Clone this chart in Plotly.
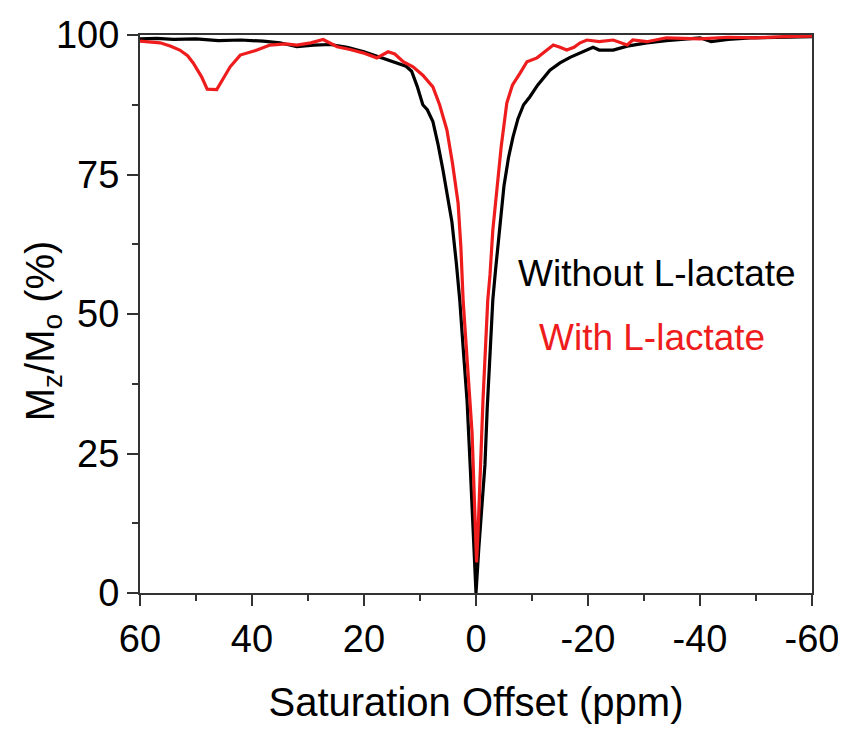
import plotly.graph_objects as go

# Saturation offset (ppm) and Mz/Mo (%)
x_without = [60, 57, 54, 50, 46, 42, 38, 35, 32, 29, 26, 23, 20, 18, 16.5, 14.5, 12.5, 11.5,
             10.5, 9.5, 8.7, 7.7, 6.8, 5.9, 5.0, 4.3, 3.5, 2.9, 2.3, 1.6, 1.0, 0.5, 0.0,
             -0.5, -1.0, -1.6, -2.0, -2.5, -3.0, -3.5, -4.3, -5.0, -5.8, -6.6, -7.5, -8.5,
             -9.6, -11, -13.2, -15, -16.8, -19, -20.9, -22, -24.5, -27, -30.5, -34, -37,
             -40, -42, -45, -49, -53, -56, -60]
y_without = [99.3, 99.4, 99.2, 99.3, 99.0, 99.1, 98.9, 98.6, 97.9, 98.2, 98.3, 97.8, 97.0,
             96.3, 95.9, 95.2, 94.4, 93.5, 90.8, 87.5, 86.6, 84.5, 80.5, 75.8, 70.5, 66.5,
             59.0, 52.5, 44.0, 34.5, 22.0, 11.0, 0.0,
             8.0, 15.0, 23.0, 33.0, 44.0, 52.5, 58.0, 66.8, 73.0, 78.0, 81.7, 85.0, 87.5,
             88.9, 91.0, 93.7, 95.0, 96.0, 97.0, 97.8, 97.3, 97.3, 98.0, 98.6, 99.0, 99.2,
             99.5, 98.8, 99.2, 99.5, 99.5, 99.6, 99.7]

x_with = [60, 58, 56.4, 54.5, 52.9, 51.5, 50.5, 49, 48, 46.3, 45, 43.9, 42.1, 39.1, 36.8, 34,
          32, 29.5, 27.3, 24.8, 22.5, 20.2, 17.7, 15.7, 14.5, 13, 11.25, 9.5, 7.7, 6.5, 5.2,
          4.2, 3.2, 2.7, 2.3, 1.5, 0.7, 0.3, -0.1, -0.36, -0.8, -1.25, -2.1, -2.5, -3.0,
          -3.75, -4.5, -5.5, -6.5, -7.9, -9.1, -10.9, -12.7, -13.8, -15, -16.2, -17.5,
          -18.6, -19.8, -22, -24.5, -25.7, -27, -28, -30.5, -34, -40, -45, -50, -55, -60]
y_with = [98.9, 98.8, 98.6, 98.0, 97.3, 96.3, 95.0, 92.5, 90.3, 90.2, 92.5, 94.3, 96.4, 97.3,
          98.2, 98.4, 98.2, 98.6, 99.2, 97.9, 97.4, 96.8, 95.9, 97.0, 96.6, 95.2, 94.3, 92.8,
          90.7, 87.5, 83.0, 77.0, 69.9, 62.0, 52.5, 40.0, 28.7, 17.0, 5.5, 10.8, 23.0, 34.6,
          52.5, 57.0, 65.0, 72.8, 80.0, 87.8, 91.0, 93.2, 95.2, 95.9, 97.3, 98.2, 97.8, 97.3,
          97.8, 98.6, 99.1, 98.8, 99.1, 98.6, 98.2, 99.1, 98.8, 99.5, 99.3, 99.6, 99.5, 99.7,
          99.8]

x_ticks = [60, 40, 20, 0, -20, -40, -60]
y_ticks = [0, 25, 50, 75, 100]

font_family = "Arial, Liberation Sans, sans-serif"

fig = go.Figure()
fig.add_trace(go.Scatter(x=x_without, y=y_without, mode="lines",
                         line=dict(color="#000000", width=3.2), name="Without L-lactate"))
fig.add_trace(go.Scatter(x=x_with, y=y_with, mode="lines",
                         line=dict(color="#ee1c1c", width=3.2), name="With L-lactate"))

fig.add_annotation(text="Without L-lactate", x=0.77, y=0.572, xref="paper", yref="paper",
                   xanchor="center", yanchor="middle",
                   showarrow=False, font=dict(size=37, color="#000000", family=font_family))
fig.add_annotation(text="With L-lactate", x=0.762, y=0.457, xref="paper", yref="paper",
                   xanchor="center", yanchor="middle",
                   showarrow=False, font=dict(size=37, color="#ee1c1c", family=font_family))
fig.add_annotation(text="M<sub>z</sub>/M<sub>o</sub> (%)", x=-0.145, y=0.47,
                   xref="paper", yref="paper", xanchor="center", yanchor="middle",
                   textangle=-90, showarrow=False,
                   font=dict(size=40, color="#000000", family=font_family))

axis_common = dict(
    showline=True, linecolor="#333333", linewidth=2, mirror=True,
    ticks="outside", ticklen=11, tickwidth=2, tickcolor="#333333",
    showgrid=False, zeroline=False, automargin=False,
    tickfont=dict(size=38, color="#000000", family=font_family),
)

fig.update_xaxes(
    range=[60, -60], tickvals=x_ticks, ticktext=[str(v) for v in x_ticks],
    minor=dict(dtick=10, tick0=0, ticks="outside", ticklen=6, tickwidth=2, tickcolor="#333333"),
    title=dict(text="Saturation Offset (ppm)", font=dict(size=40, color="#000000", family=font_family),
               standoff=29),
    **axis_common,
)
fig.update_yaxes(
    range=[0, 100], tickvals=y_ticks, ticktext=[str(v) for v in y_ticks],
    minor=dict(dtick=12.5, tick0=0, ticks="outside", ticklen=6, tickwidth=2, tickcolor="#333333"),
    **axis_common,
)

# the page adds an 8px body margin, so the figure is 8px smaller and margins shifted
fig.update_layout(
    width=838, height=721,
    margin=dict(l=132, r=34, t=27, b=136),
    paper_bgcolor="white", plot_bgcolor="white",
    showlegend=False,
)

fig.write_html("out.html")
